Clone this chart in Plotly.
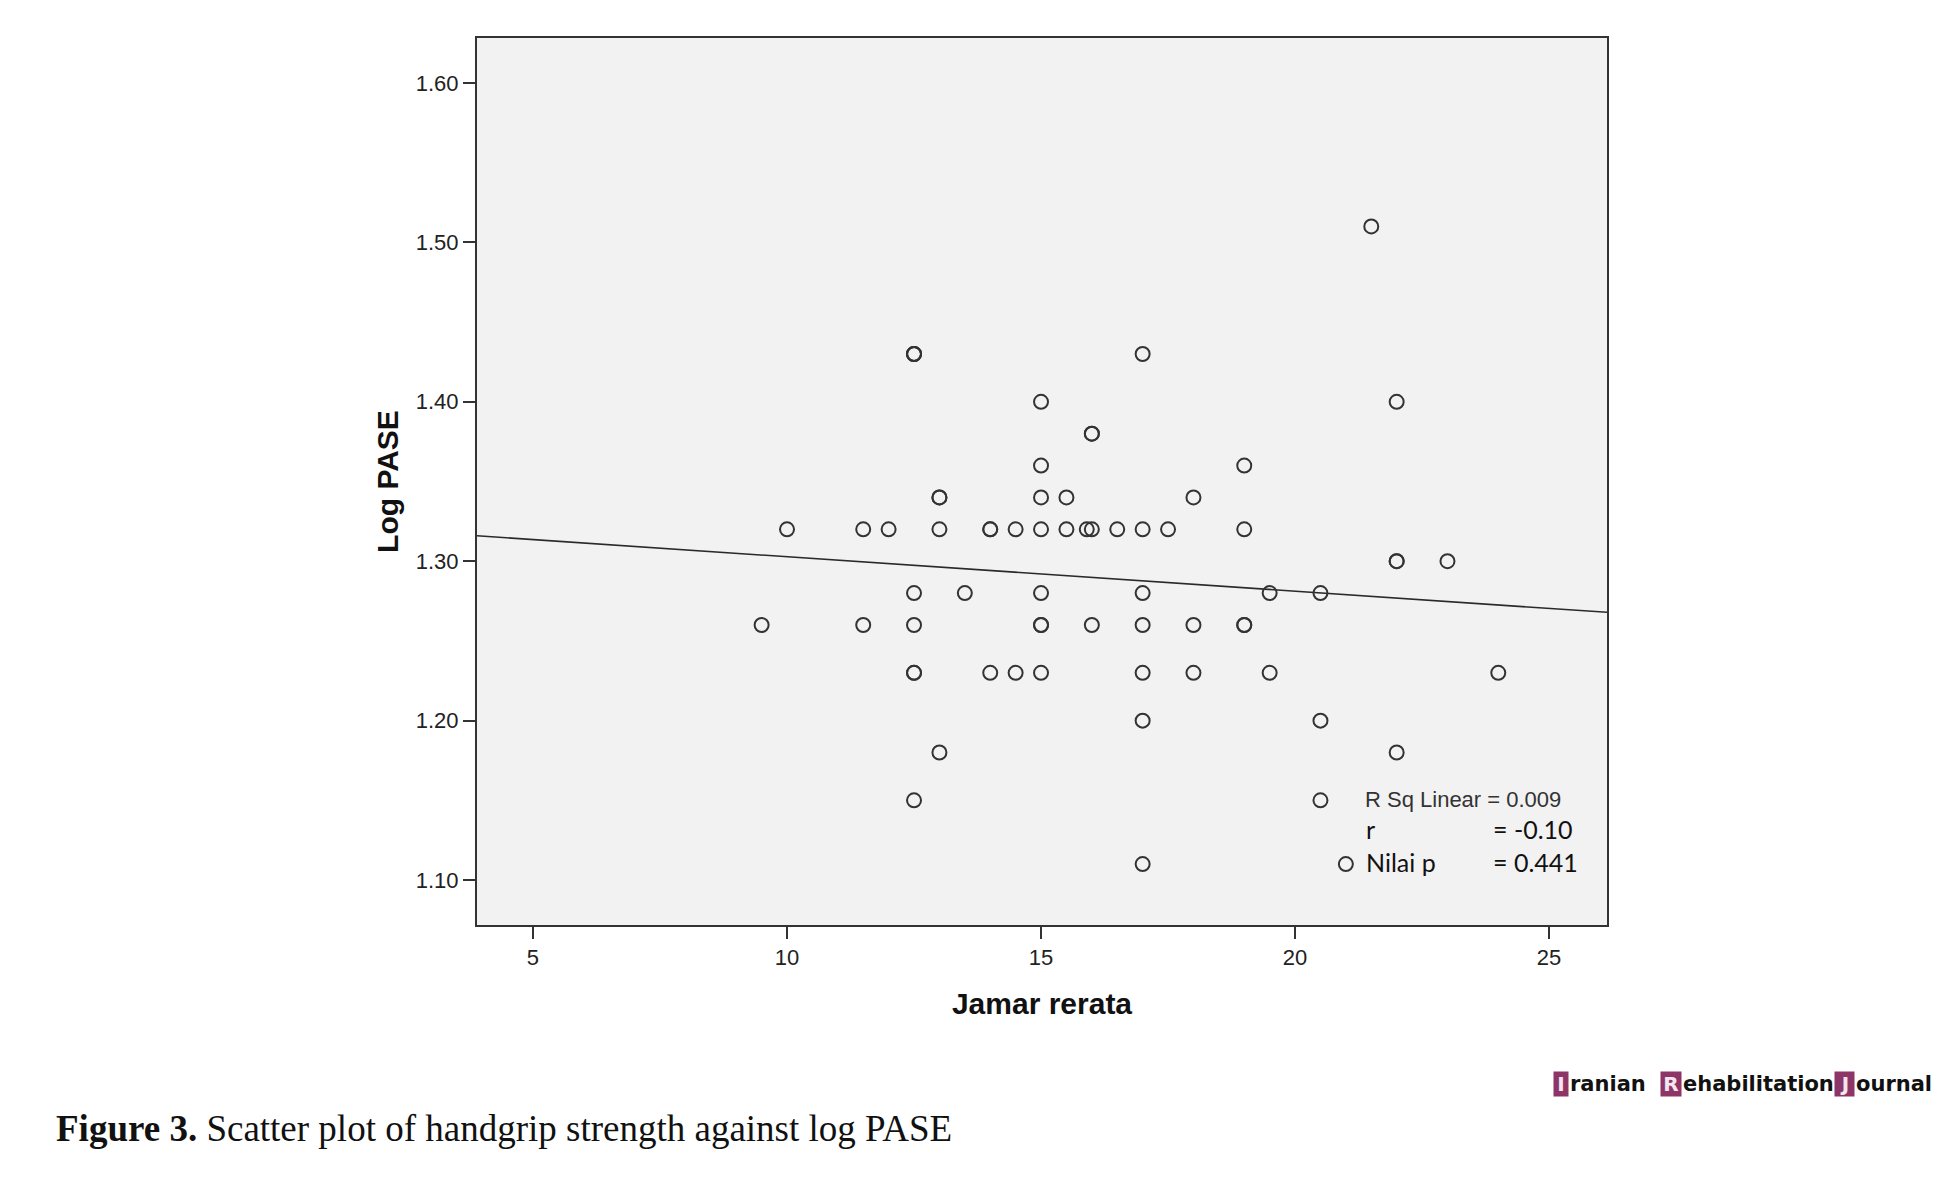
import plotly.graph_objects as go

# ---- data (Jamar rerata vs Log PASE) ----
jamar = [
    9.5, 10, 11.5, 11.5, 12,
    12.5, 12.5, 12.5, 12.5, 12.5, 12.5, 12.5, 12.5,
    13, 13, 13, 13, 13.5,
    14, 14, 14, 14.5, 14.5,
    15, 15, 15, 15, 15, 15, 15, 15,
    15.5, 15.5, 15.9, 16, 16, 16, 16, 16.5,
    17, 17, 17, 17, 17, 17, 17, 17.5,
    18, 18, 18,
    19, 19, 19, 19, 19.5, 19.5,
    20.5, 20.5, 20.5, 21, 21.5,
    22, 22, 22, 22, 23, 24,
]
log_pase = [
    1.26, 1.32, 1.32, 1.26, 1.32,
    1.43, 1.43, 1.28, 1.26, 1.23, 1.23, 1.15, 1.43,
    1.34, 1.34, 1.32, 1.18, 1.28,
    1.32, 1.32, 1.23, 1.32, 1.23,
    1.40, 1.36, 1.34, 1.32, 1.28, 1.26, 1.26, 1.23,
    1.34, 1.32, 1.32, 1.32, 1.38, 1.38, 1.26, 1.32,
    1.43, 1.32, 1.28, 1.26, 1.23, 1.20, 1.11, 1.32,
    1.34, 1.26, 1.23,
    1.36, 1.32, 1.26, 1.26, 1.28, 1.23,
    1.28, 1.20, 1.15, 1.11, 1.51,
    1.40, 1.30, 1.30, 1.18, 1.30, 1.23,
]

# linear fit line as drawn by SPSS
fit_intercept = 1.3244
fit_slope = -0.00216

x_ticks = [5, 10, 15, 20, 25]
y_ticks = [1.10, 1.20, 1.30, 1.40, 1.50, 1.60]
x_range = [3.898, 26.14]
y_range = [1.0718, 1.6282]

stats_labels = ["r", "Nilai p"]
stats_values = ["= -0.10", "= 0.441"]
r_sq_text = "R Sq Linear = 0.009"

# ---- page geometry (pixels, page coords; body has an 8px margin) ----
PAD = 8
W, H = 1951 - 2 * PAD, 1187 - 2 * PAD
PLOT_L, PLOT_R, PLOT_T, PLOT_B = 477, 1607, 38, 925   # plot box on the page
L, T = PLOT_L - PAD, PLOT_T - PAD
R, B = W - (PLOT_R - PAD), H - (PLOT_B - PAD)
PW, PH = W - L - R, H - T - B


def px(x):
    return (x - PAD - L) / PW


def py(y):
    return (H - B - (y - PAD)) / PH


fig = go.Figure()

fit_x = list(x_range)
fit_y = [fit_intercept + fit_slope * v for v in fit_x]
fig.add_trace(go.Scatter(
    x=fit_x, y=fit_y, mode="lines",
    line=dict(color="#2a2a2a", width=1.6),
    hoverinfo="skip", showlegend=False,
))

fig.add_trace(go.Scatter(
    x=jamar, y=log_pase, mode="markers",
    marker=dict(symbol="circle-open", size=14, color="#333333",
                line=dict(width=2, color="#333333")),
    showlegend=False,
    hovertemplate="Jamar rerata: %{x}<br>Log PASE: %{y:.2f}<extra></extra>",
))

axis_common = dict(
    showline=True, mirror=True, linecolor="#333333", linewidth=2,
    showgrid=False, zeroline=False,
    ticks="outside", ticklen=12, tickwidth=2, tickcolor="#333333",
    tickfont=dict(family="Liberation Sans, Arial", size=22, color="#222222"),
)

fig.update_xaxes(
    range=x_range, tickvals=x_ticks,
    title=dict(text="<b>Jamar rerata</b>", standoff=24,
               font=dict(family="Liberation Sans, Arial", size=30, color="#111111")),
    **axis_common,
)
fig.update_yaxes(
    range=y_range, tickvals=y_ticks, tickformat=".2f",
    title=dict(text="<b>Log PASE</b>", standoff=8,
               font=dict(family="Liberation Sans, Arial", size=30, color="#111111")),
    **axis_common,
)

ann = []
# R squared label in SPSS font
ann.append(dict(text=r_sq_text, x=px(1363), y=py(799), xanchor="left", yanchor="middle",
                font=dict(family="Liberation Sans, Arial", size=22, color="#333333")))
# r and p value added on top
for label, value, yy in zip(stats_labels, stats_values, [829, 862]):
    ann.append(dict(text=label, x=px(1364), y=py(yy), xanchor="left", yanchor="middle",
                    font=dict(family="Lato", size=25, color="#111111")))
    ann.append(dict(text=value, x=px(1491), y=py(yy), xanchor="left", yanchor="middle",
                    font=dict(family="Lato", size=25, color="#111111")))

# caption
ann.append(dict(
    text="<b>Figure 3.</b> Scatter plot of handgrip strength against log PASE",
    x=px(54), y=py(1128), xanchor="left", yanchor="middle",
    font=dict(family="Liberation Serif, serif", size=37, color="#111111"),
))

# journal logo: boxed initials + text
purple = "#8c3566"
logo_boxes = [("I", 1553, 14), ("R", 1660, 20), ("J", 1834, 19)]
logo_words = [("ranian", 1568), ("ehabilitation", 1681), ("ournal", 1854)]
for letter, x0, w in logo_boxes:
    ann.append(dict(text=f"<b>{letter}</b>", x=px(x0), y=py(1084), xanchor="left", yanchor="middle",
                    width=w, height=24, bgcolor=purple, borderpad=0, align="center",
                    font=dict(family="DejaVu Sans", size=20, color="#f4e6ee")))
for word, x0 in logo_words:
    ann.append(dict(text=f"<b>{word}</b>", x=px(x0), y=py(1084), xanchor="left", yanchor="middle",
                    font=dict(family="DejaVu Sans", size=21, color="#111111")))

for a in ann:
    a.update(xref="paper", yref="paper", showarrow=False)

fig.update_layout(
    width=W, height=H,
    margin=dict(l=L, r=R, t=T, b=B, autoexpand=False),
    paper_bgcolor="white",
    plot_bgcolor="#f2f2f2",
    annotations=ann,
)

fig.write_html("out.html")
